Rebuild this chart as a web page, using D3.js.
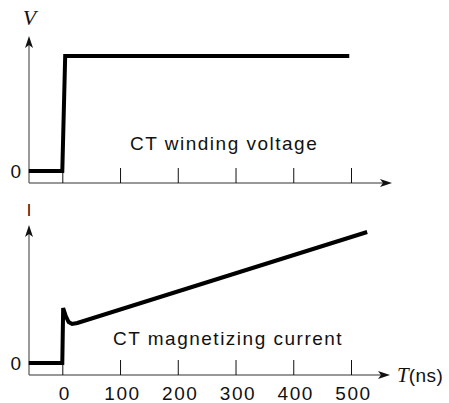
<html>
<head>
<script src="https://d3js.org/d3.v7.min.js"></script>
<style>
  body { margin: 0; background: #fff; }
  .lbl { font-family: "Liberation Sans", Arial, sans-serif; font-size: 19px; letter-spacing: 1.5px; fill: #111; }
  .ital { font-family: "Liberation Serif", "Times New Roman", serif; font-style: italic; fill: #111; }
  .tick line { stroke: #111; }
</style>
</head>
<body>
<svg width="449" height="403"></svg>
<script>
// x ticks (ns)
var tickVals = [0, 100, 200, 300, 400, 500];

// CT winding voltage (normalised), time in ns
var voltT = [-58, 0, 5, 497];
var voltV = [0, 0, 1, 1];

// CT magnetizing current (arbitrary units), time in ns
var currT = [-58, 0, 1.5, 6, 11, 17, 26, 528];
var currI = [0, 0, 55, 47, 41, 39, 40, 131];

var svg = d3.select("svg");

var x = d3.scaleLinear().domain([0, 500]).range([62.3, 351]);
var yV = d3.scaleLinear().domain([0, 1]).range([171, 56]);
var yI = d3.scaleLinear().domain([0, 140]).range([363, 223]);

var axisX0 = 29;

function arrowUp(g, cx, tipY) {
    g.append("path")
     .attr("d", "M" + cx + "," + tipY + " L" + (cx + 4) + "," + (tipY + 12) +
                " L" + cx + "," + (tipY + 9) + " L" + (cx - 4) + "," + (tipY + 12) + "Z")
     .attr("fill", "#111");
}
function arrowRight(g, tipX, cy) {
    g.append("path")
     .attr("d", "M" + tipX + "," + cy + " L" + (tipX - 12) + "," + (cy - 4) +
                " L" + (tipX - 9) + "," + cy + " L" + (tipX - 12) + "," + (cy + 4) + "Z")
     .attr("fill", "#111");
}

function panel(axisY, topY, arrowX, yScale, showLabels) {
    var g = svg.append("g");
    // horizontal axis line
    g.append("line").attr("x1", axisX0).attr("x2", arrowX - 4)
     .attr("y1", axisY).attr("y2", axisY).attr("stroke", "#333").attr("stroke-width", 1.2);
    arrowRight(g, arrowX, axisY);
    // vertical axis line
    g.append("line").attr("x1", axisX0).attr("x2", axisX0)
     .attr("y1", axisY).attr("y2", topY + 4).attr("stroke", "#555").attr("stroke-width", 1.2);
    arrowUp(g, axisX0, topY);

    var ax = d3.axisBottom(x).tickValues(tickVals).tickSize(-15).tickPadding(12);
    if (!showLabels) ax.tickFormat("");
    var ga = svg.append("g").attr("transform", "translate(0," + axisY + ")").call(ax);
    ga.select(".domain").remove();
    ga.selectAll("text").attr("class", "lbl").attr("font-size", null).attr("font-family", null)
      .attr("fill", null).attr("dx", "0.1em");

    var gy = svg.append("g").attr("transform", "translate(" + axisX0 + ",0)")
       .call(d3.axisLeft(yScale).tickValues([0]).tickFormat(d3.format("d")).tickSize(0).tickPadding(8));
    gy.select(".domain").remove();
    gy.selectAll("text").attr("class", "lbl").attr("font-size", null).attr("font-family", null)
      .attr("fill", null).style("letter-spacing", "0");
}

panel(183, 36, 392, yV, false);
panel(375, 225, 390, yI, true);

// waveforms
var lineV = d3.line().x(function(d, i) { return x(voltT[i]); }).y(function(d) { return yV(d); });
svg.append("path").attr("d", lineV(voltV))
   .attr("fill", "none").attr("stroke", "#000").attr("stroke-width", 4)
   .attr("stroke-linejoin", "miter");

var lineI = d3.line().x(function(d, i) { return x(currT[i]); }).y(function(d) { return yI(d); });
svg.append("path").attr("d", lineI(currI))
   .attr("fill", "none").attr("stroke", "#000").attr("stroke-width", 4)
   .attr("stroke-linejoin", "miter");

// labels
svg.append("text").attr("class", "ital").attr("x", 29.5).attr("y", 25)
   .attr("text-anchor", "middle").attr("font-size", 22).text("V");
svg.append("text").attr("class", "lbl").attr("x", 29).attr("y", 216)
   .attr("text-anchor", "middle").style("font-size", "16px").style("letter-spacing", "0").text("I");

svg.append("text").attr("class", "lbl").attr("x", 130).attr("y", 150).text("CT winding voltage");
svg.append("text").attr("class", "lbl").attr("x", 113).attr("y", 345).text("CT magnetizing current");

var tl = svg.append("text").attr("x", 397).attr("y", 382);
tl.append("tspan").attr("class", "ital").attr("font-size", 21).text("T");
tl.append("tspan").attr("class", "lbl").style("letter-spacing", "0.5px").text("(ns)");
</script>
</body>
</html>
